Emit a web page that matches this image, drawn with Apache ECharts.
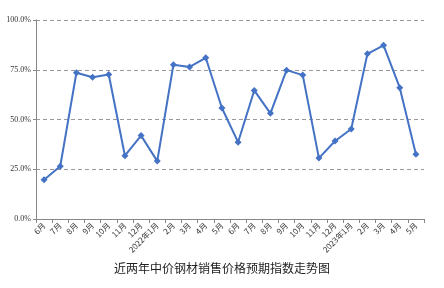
<!DOCTYPE html>
<html><head><meta charset="utf-8">
<script src="https://cdn.jsdelivr.net/npm/echarts@6/dist/echarts.min.js"></script>
<style>html,body{margin:0;padding:0;background:#fff}#c{width:444px;height:288px}</style>
</head><body><div id="c"></div>
<script>
var categories = ['6月','7月','8月','9月','10月','11月','12月','2022年1月','2月','3月','4月','5月','6月','7月','8月','9月','10月','11月','12月','2023年1月','2月','3月','4月','5月'];
var values = [19.7, 26.5, 73.5, 71.2, 72.6, 31.8, 41.9, 29.1, 77.5, 76.4, 81.0, 55.8, 38.6, 64.6, 53.1, 74.8, 72.3, 30.6, 39.2, 45.2, 83.0, 87.3, 66.0, 32.5];
var yTicks = [0, 25, 50, 75, 100];
var titleText = '近两年中价钢材销售价格预期指数走势图';
var chart = echarts.init(document.getElementById('c'));
chart.setOption({
  backgroundColor: '#fff',
  animation: false,
  title: {text: titleText, left: 'center', bottom: 9, textStyle: {fontSize: 12, fontWeight: 'normal', color: '#222', fontFamily: 'Noto Sans CJK SC'}},
  grid: {left: 36, right: 20, top: 20, bottom: 69},
  xAxis: {
    type: 'category', data: categories, boundaryGap: true,
    axisLine: {lineStyle: {color: '#888', width: 1}},
    axisTick: {show: true, length: 4, lineStyle: {color: '#888'}},
    axisLabel: {rotate: 45, fontSize: 8, color: '#333', margin: 5, interval: 0, fontFamily: 'Noto Sans CJK SC'}
  },
  yAxis: {
    type: 'value', min: yTicks[0], max: yTicks[yTicks.length-1], interval: 25,
    axisLine: {show: true, lineStyle: {color: '#888', width: 1}},
    axisTick: {show: true, length: 3, lineStyle: {color: '#888'}},
    axisLabel: {fontSize: 8, color: '#333', margin: 5, fontFamily: 'Liberation Serif', formatter: function(v){return v.toFixed(1)+'%';}},
    splitLine: {lineStyle: {color: '#999', type: [4, 3], width: 1}}
  },
  series: [{
    type: 'line', data: values,
    symbol: 'diamond', symbolSize: 7,
    lineStyle: {color: '#4472C4', width: 2},
    itemStyle: {color: '#4472C4'}
  }]
});
</script></body></html>
